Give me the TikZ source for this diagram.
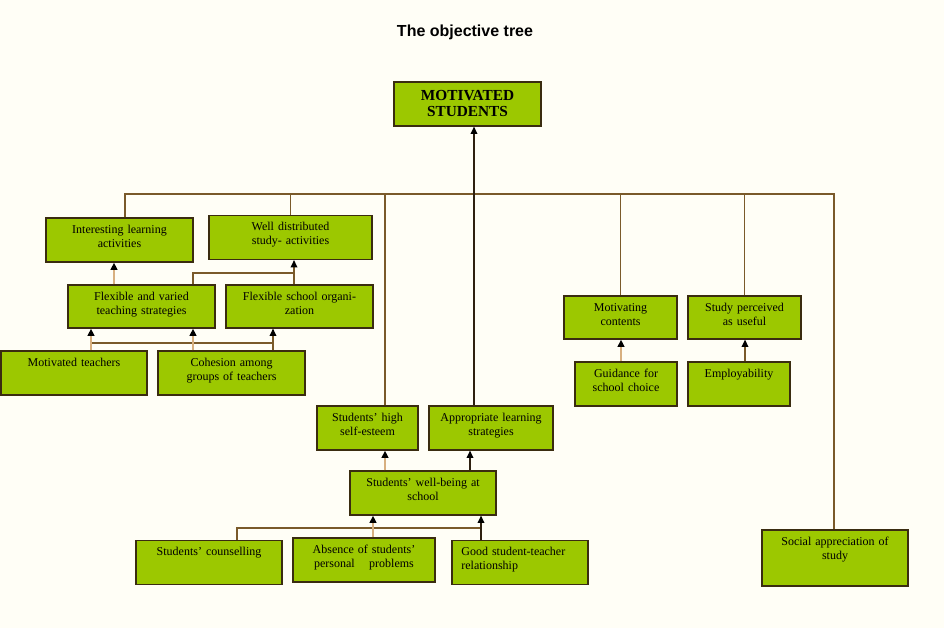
\documentclass[tikz,border=0pt]{standalone}
\usepackage{fontspec}
\setmainfont{Liberation Serif}
\newfontfamily\titlefont{Liberation Sans}
\usepackage{xcolor}
\usepackage{tikz}
\usetikzlibrary{arrows.meta}
\definecolor{crema}{HTML}{FFFEF6}
\definecolor{verde}{HTML}{9CC800}
\definecolor{bordo}{HTML}{3A2C10}
\definecolor{marrone}{HTML}{7A5A2A}
\definecolor{tan}{HTML}{D8B080}
\definecolor{scuro}{HTML}{2E2010}

\begin{document}
\begin{tikzpicture}[x=0.75pt, y=-0.75pt,
  goal/.style={draw=bordo, fill=verde, line width=0.9pt, align=center,
    text width={#1*0.75pt-6pt}, inner xsep=3pt, inner ysep=3pt,
    text height=8.25pt, text depth=18.75pt,
    font=\fontsize{9}{10.5}\selectfont},
  link/.style={draw=marrone, line width=1pt},
  tip/.style={-{Triangle[length=5.5pt, width=5pt, color=black]}},
  tanarrow/.style={draw=tan, line width=1.4pt, tip},
  linkarrow/.style={link, tip},
  darkarrow/.style={draw=scuro, line width=1pt, tip}]
  % Background and title
  \fill[crema] (0,0) rectangle (944,628);
  \node[font=\titlefont\bfseries\fontsize{12}{14}\selectfont] (title) at (465,32) {The objective tree};
  % Top objective
  \node[goal=147, text height=11pt, text depth=16pt,
    font=\bfseries\fontsize{11.5}{12}\selectfont] (ms) at (467.5,104) {MOTIVATED\\STUDENTS};
  % Left branch
  \node[goal=147] (ila) at (119.5,240) {Interesting learning\\activities};
  \node[goal=163] (wdsa) at (290.5,237.5) {Well distributed\\study- activities};
  \node[goal=147, text depth=18pt] (fvts) at (141.5,306.5) {Flexible and varied\\teaching strategies};
  \node[goal=147, text depth=18pt] (fso) at (299.5,306.5) {Flexible school organi-\\zation};
  \node[goal=146] (mt) at (74,373) {Motivated teachers};
  \node[goal=147] (cag) at (231.5,373) {Cohesion among\\groups of teachers};
  % Middle branch
  \node[goal=101] (shse) at (367.5,428) {Students’ high\\self-esteem};
  \node[goal=124] (als) at (491,428) {Appropriate learning\\strategies};
  \node[goal=146] (swbs) at (423,493) {Students’ well-being at\\school};
  \node[goal=146] (sc) at (209,562.5) {Students’ counselling};
  \node[goal=142] (asp) at (364,560) {Absence of students’\\personal\hspace{1.2em}problems};
  \node[goal=136, align=left, text width=88pt, inner xsep=7pt] (gstr) at (520,562.5) {Good student-teacher\\relationship};
  % Right branch
  \node[goal=113, text depth=18pt] (mc) at (620.5,317.5) {Motivating\\contents};
  \node[goal=113, text depth=18pt] (spu) at (744.5,317.5) {Study perceived\\as useful};
  \node[goal=102] (gsc) at (626,384) {Guidance for\\school choice};
  \node[goal=102] (emp) at (739,384) {Employability};
  \node[goal=146, text depth=27.75pt] (sas) at (835,558) {Social appreciation of\\study};
  % Main bus
  \coordinate (busL) at (125,194);
  \coordinate (busR) at (834,194);
  \draw[link] (busL |- ila.north) -- (busL) -- (busR) -- (busR |- sas.north);
  \draw[link] (wdsa.north |- busL) -- (wdsa.north);
  \draw[link] (385,194) -- (385,0 |- shse.north);
  \draw[link] (mc.north |- busL) -- (mc.north);
  \draw[link] (spu.north |- busL) -- (spu.north);
  \draw[darkarrow] (474,0 |- als.north) -- (474,0 |- ms.south);
  % Left links
  \draw[tanarrow] (114,0 |- fvts.north) -- (114,0 |- ila.south);
  \draw[link] (193,0 |- fvts.north) |- (294,273);
  \draw[linkarrow] (294,0 |- fso.north) -- (294,0 |- wdsa.south);
  \draw[link] (91,343) -- (273,343);
  \draw[tanarrow] (91,0 |- mt.north) -- (91,0 |- fvts.south);
  \draw[tanarrow] (193,0 |- cag.north) -- (193,0 |- fvts.south);
  \draw[linkarrow] (273,0 |- cag.north) -- (273,0 |- fso.south);
  % Middle links
  \draw[tanarrow] (385,0 |- swbs.north) -- (385,0 |- shse.south);
  \draw[darkarrow] (470,0 |- swbs.north) -- (470,0 |- als.south);
  \draw[link] (237,0 |- sc.north) |- (481,528);
  \draw[tanarrow] (373,0 |- asp.north) -- (373,0 |- swbs.south);
  \draw[darkarrow] (481,0 |- gstr.north) -- (481,0 |- swbs.south);
  % Right links
  \draw[tanarrow] (621,0 |- gsc.north) -- (621,0 |- mc.south);
  \draw[linkarrow] (745,0 |- emp.north) -- (745,0 |- spu.south);
\end{tikzpicture}
\end{document}
